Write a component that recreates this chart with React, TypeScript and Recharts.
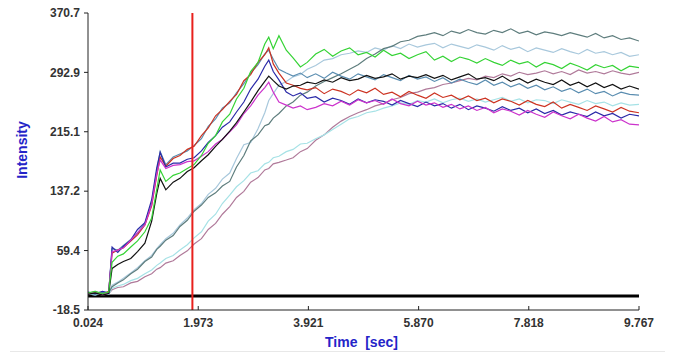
import React from "react";
import { LineChart, Line, XAxis, YAxis, ReferenceLine } from "recharts";

// sample times (sec)
const times = [
  0.024, 0.15, 0.28, 0.39, 0.45, 0.55, 0.65, 0.78, 0.9, 1.03, 1.15, 1.24, 1.3, 1.4, 1.53, 1.65, 1.78, 1.9,
  2.03, 2.15, 2.28, 2.4, 2.53, 2.65, 2.78, 2.9, 3.03, 3.15, 3.22, 3.3, 3.4, 3.53, 3.65, 3.78, 3.9, 4.05,
  4.2, 4.35, 4.5, 4.65, 4.8, 4.95, 5.1, 5.25, 5.4, 5.55, 5.7, 5.85, 6.0, 6.15, 6.3, 6.45, 6.6, 6.75, 6.9,
  7.05, 7.2, 7.35, 7.5, 7.65, 7.8, 7.95, 8.1, 8.25, 8.4, 8.55, 8.7, 8.85, 9.0, 9.15, 9.3, 9.45, 9.6, 9.767,
];

const xTicks = [0.024, 1.973, 3.921, 5.87, 7.818, 9.767];
const yTicks = [-18.5, 59.4, 137.2, 215.1, 292.9, 370.7];
const markerTime = 1.87;

const green = [
  4, 6, 3, 5, 44, 52, 55, 64, 72, 84, 102, 140, 165, 150, 158, 161, 167, 172, 184, 200, 210, 228, 238, 258,
  272, 294, 306, 330, 339, 324, 341, 322, 312, 300, 306, 317, 323, 314, 321, 325, 316, 319, 313, 322, 315,
  318, 311, 316, 320, 309, 314, 307, 313, 310, 305, 311, 306, 302, 309, 304, 307, 300, 306, 303, 298, 305,
  301, 296, 303, 299, 302, 295, 301, 299,
];
const red = [
  3, 5, 2, 6, 56, 60, 63, 72, 80, 93, 118, 158, 182, 170, 180, 184, 192, 196, 210, 220, 236, 244, 255, 264,
  282, 290, 306, 316, 325, 304, 292, 279, 276, 272, 270, 273, 265, 271, 268, 263, 270, 266, 272, 264, 267,
  261, 268, 263, 259, 266, 260, 263, 257, 262, 256, 259, 253, 258, 255, 250, 256, 251, 248, 254, 246, 251,
  247, 243, 249, 245, 241, 247, 242, 240,
];
const steel = [
  4, 2, 5, 3, 62, 60, 66, 74, 82, 95, 122, 164, 189, 172, 182, 186, 190, 197, 206, 222, 232, 246, 253, 266,
  278, 292, 303, 317, 322, 310, 297, 292, 288, 292, 286, 291, 285, 293, 288, 284, 291, 287, 283, 290, 286,
  282, 289, 284, 287, 281, 286, 279, 284, 280, 277, 283, 276, 280, 274, 278, 272, 276, 270, 274, 268, 272,
  266, 271, 265, 268, 262, 267, 264, 263,
];
const blue = [
  5, 3, 6, 4, 64, 57, 65, 73, 87, 96, 126, 168, 188, 169, 174, 174, 179, 181, 190, 201, 210, 221, 228, 241,
  254, 271, 284, 301, 309, 294, 283, 267, 262, 266, 259, 261, 254, 259, 256, 251, 258, 253, 257, 255, 250,
  256, 252, 248, 254, 249, 252, 246, 251, 244, 249, 246, 242, 248, 243, 246, 240, 245, 239, 243, 237, 241,
  238, 235, 241, 236, 239, 233, 238, 236,
];
const black = [
  2, 4, 1, 3, 36, 41, 45, 49, 58, 69, 98, 134, 154, 139, 149, 154, 163, 168, 177, 185, 196, 205, 216, 227,
  241, 254, 269, 281, 288, 282, 275, 271, 275, 276, 280, 278, 283, 280, 286, 282, 284, 289, 285, 287, 291,
  284, 288, 286, 290, 285, 289, 283, 287, 291, 284, 286, 282, 288, 281, 285, 279, 284, 280, 277, 283, 276,
  280, 274, 279, 273, 277, 271, 275, 271,
];
const magenta = [
  3, 6, 2, 4, 58, 60, 63, 73, 83, 93, 120, 160, 178, 167, 171, 172, 176, 177, 183, 189, 199, 205, 215, 224,
  239, 249, 263, 273, 280, 267, 254, 250, 246, 249, 244, 247, 252, 249, 255, 250, 257, 253, 256, 251, 258,
  252, 249, 255, 250, 253, 247, 251, 245, 249, 243, 247, 240, 245, 242, 237, 243, 238, 234, 241, 236, 232,
  238, 233, 229, 235, 228, 231, 225, 224,
];
const slate = [
  3, 5, 2, 4, 12, 17, 21, 29, 35, 45, 51, 61, 65, 73, 79, 91, 99, 111, 119, 129, 135, 144, 150, 169, 184,
  203, 211, 223, 225, 233, 239, 249, 254, 263, 267, 275, 281, 286, 291, 297, 303, 311, 317, 324, 327, 333,
  335, 340, 342, 345, 341, 347, 344, 349, 345, 343, 348, 345, 350, 344, 347, 342, 346, 344, 341, 345, 342,
  339, 344, 338, 341, 336, 338, 334,
];
const lightBlue = [
  4, 2, 5, 3, 14, 18, 23, 30, 37, 46, 53, 62, 67, 75, 82, 93, 102, 113, 121, 133, 141, 153, 161, 180, 198,
  201, 219, 240, 256, 265, 276, 281, 287, 290, 297, 302, 309, 311, 316, 318, 321, 319, 325, 322, 328, 324,
  330, 326, 329, 331, 325, 330, 327, 324, 329, 326, 322, 328, 323, 326, 320, 325, 322, 319, 324, 320, 317,
  323, 318, 320, 316, 319, 314, 316,
];
const mauve = [
  2, 4, 1, 3, 8, 11, 12, 17, 19, 25, 29, 35, 37, 43, 46, 53, 59, 68, 75, 87, 95, 107, 117, 129, 137, 149,
  155, 165, 167, 173, 175, 178, 181, 189, 193, 204, 211, 221, 229, 235, 240, 244, 249, 252, 257, 260, 265,
  267, 271, 273, 277, 279, 282, 285, 283, 288, 286, 291, 288, 293, 290, 292, 295, 291, 294, 290, 296, 292,
  294, 291, 295, 292, 290, 293,
];
const lightCyan = [
  3, 1, 4, 2, 10, 13, 15, 20, 23, 29, 34, 40, 43, 49, 53, 60, 67, 76, 84, 98, 107, 121, 132, 143, 151, 161,
  164, 173, 175, 181, 183, 189, 192, 199, 200, 206, 211, 218, 225, 232, 235, 240, 242, 246, 249, 253, 251,
  256, 254, 258, 253, 257, 259, 255, 258, 254, 257, 260, 255, 258, 253, 257, 256, 252, 257, 254, 251, 256,
  252, 254, 249, 253, 250, 251,
];

const series = [
  { key: "mauve", color: "#b07a9a", values: mauve },
  { key: "lightCyan", color: "#a6e2e6", values: lightCyan },
  { key: "lightBlue", color: "#a8c8dc", values: lightBlue },
  { key: "slate", color: "#5e7d7d", values: slate },
  { key: "steel", color: "#5a8db0", values: steel },
  { key: "red", color: "#cc3322", values: red },
  { key: "blue", color: "#2a2aa8", values: blue },
  { key: "magenta", color: "#cc33cc", values: magenta },
  { key: "black", color: "#111111", values: black },
  { key: "green", color: "#35d335", values: green },
];

const data = times.map((t, i) => {
  const row: Record<string, number> = { t };
  series.forEach((s) => {
    row[s.key] = s.values[i];
  });
  return row;
});

const tickStyle = { fill: "#333", fontSize: 12, fontWeight: "bold" as const };

export default function App() {
  return (
    <div
      style={{
        position: "absolute",
        left: 0,
        top: 0,
        width: 673,
        height: 358,
        background: "#fff",
        fontFamily: "'Liberation Sans', Arial, sans-serif",
      }}
    >
      <LineChart
        width={673}
        height={358}
        data={data}
        margin={{ top: 13, right: 34, bottom: 28, left: 28 }}
      >
        <XAxis
          type="number"
          dataKey="t"
          domain={[0.024, 9.767]}
          ticks={xTicks}
          tickFormatter={(v: number) => v.toFixed(3)}
          stroke="#222"
          tick={tickStyle}
          tickSize={-4}
          tickMargin={12}
          height={20}
          allowDataOverflow
        />
        <YAxis
          type="number"
          domain={[-18.5, 370.7]}
          ticks={yTicks}
          tickFormatter={(v: number) => v.toFixed(1)}
          stroke="#222"
          tick={tickStyle}
          tickSize={4}
          tickMargin={4}
          width={60}
          allowDataOverflow
        />
        <ReferenceLine y={0} stroke="#000" strokeWidth={3} />
        {series.map((s) => (
          <Line
            key={s.key}
            dataKey={s.key}
            type="linear"
            stroke={s.color}
            strokeWidth={1.2}
            dot={false}
            isAnimationActive={false}
          />
        ))}
        <ReferenceLine x={markerTime} stroke="#e8201c" strokeWidth={2} />
      </LineChart>
      <div
        style={{
          position: "absolute",
          left: 22,
          top: 150,
          transform: "translate(-50%, -50%) rotate(-90deg)",
          color: "#2424c8",
          fontSize: 14,
          fontWeight: "bold",
          whiteSpace: "nowrap",
        }}
      >
        Intensity
      </div>
      <div
        style={{
          position: "absolute",
          left: 325,
          top: 335,
          color: "#2424c8",
          fontSize: 14,
          fontWeight: "bold",
          whiteSpace: "pre",
          lineHeight: 1,
        }}
      >
        {"Time  [sec]"}
      </div>
      <div
        style={{
          position: "absolute",
          left: 10,
          top: 351,
          width: 655,
          height: 1,
          background: "#e8e8e8",
        }}
      />
    </div>
  );
}
